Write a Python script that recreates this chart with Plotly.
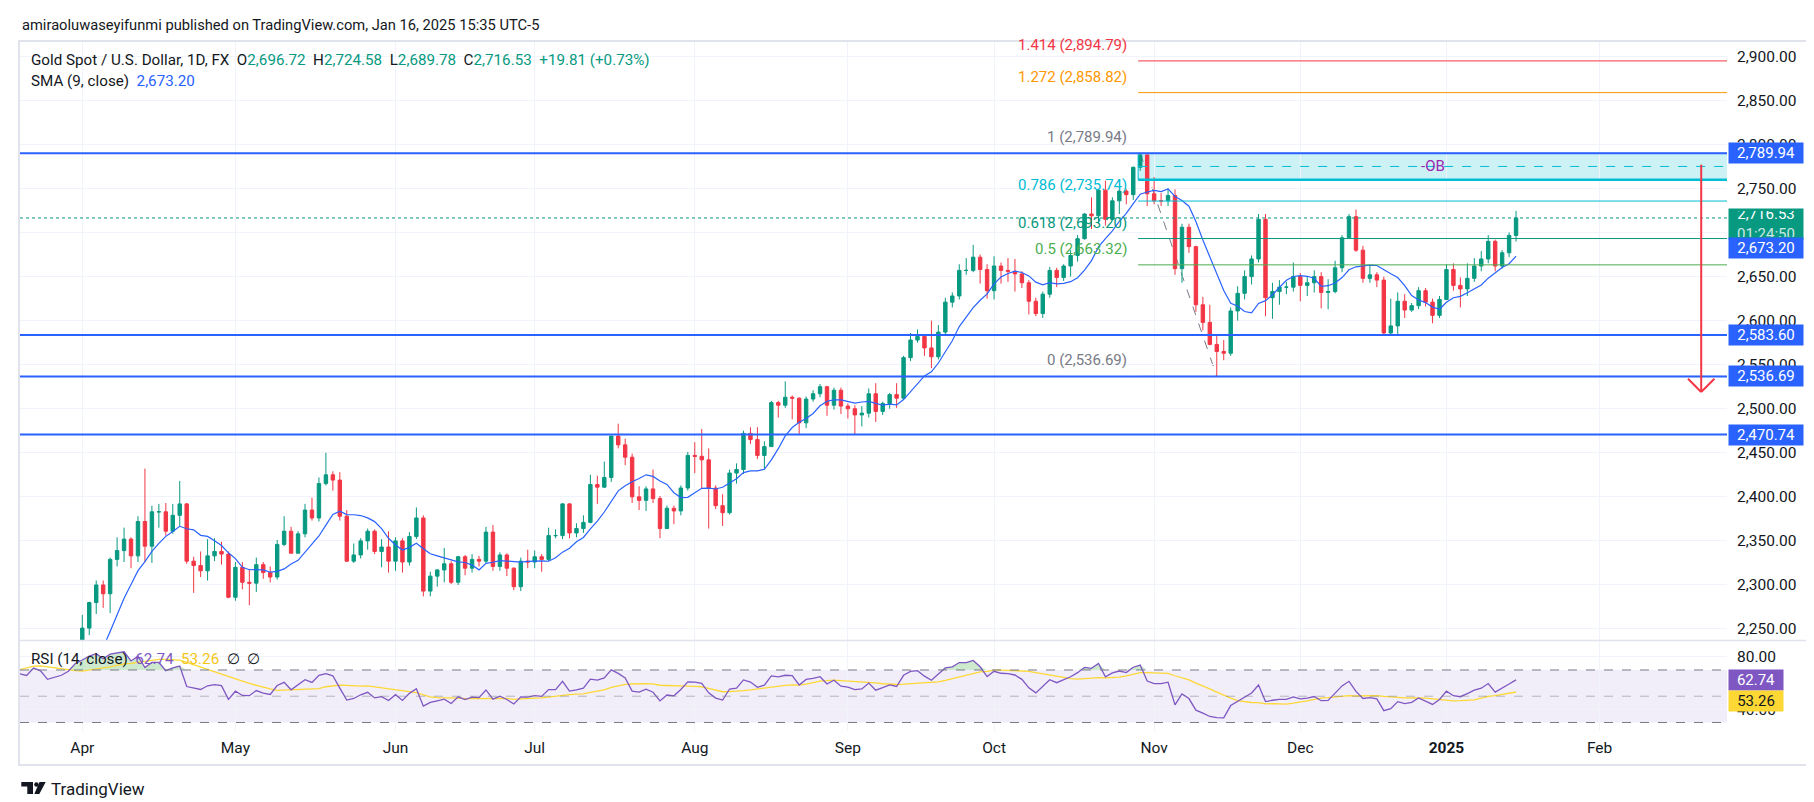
import numpy as np
import pandas as pd
import plotly.graph_objects as go

# ------------------------------------------------------------------ data
# closes before the visible window (indicator warm-up), Jan 2 - Feb 29 2024
warmup_close = [2059, 2042, 2043, 2045, 2028, 2030, 2024, 2029, 2049, 2054, 2028, 2006, 2023, 2029,
                2022, 2029, 2014, 2021, 2018, 2032, 2037, 2039,
                2054, 2039, 2025, 2035, 2035, 2034, 2024, 2020, 1992, 1992, 2004, 2013, 2017, 2025,
                2025, 2024, 2036, 2031, 2033, 2034, 2044]

# daily OHLC, Mar 1 2024 - Jan 16 2025
opens = [
    2044, 2083, 2114, 2128, 2148, 2160, 2179, 2182, 2158, 2174, 2162, 2155, 2160, 2157, 2186, 2181, 2165, 2172, 2179, 2194,
    2233, 2251, 2280, 2300, 2290, 2329, 2339, 2352, 2333, 2372, 2344, 2383, 2383, 2361, 2379, 2392, 2327, 2322, 2316, 2333, 2338, 2335,
    2286, 2320, 2303, 2302, 2323, 2314, 2309, 2346, 2361, 2336, 2358, 2385, 2376, 2415, 2425, 2419, 2378, 2327, 2334, 2350, 2361, 2338, 2343,
    2327, 2350, 2326, 2355, 2376, 2293, 2310, 2317, 2324, 2303, 2332, 2319, 2329, 2327, 2360, 2321, 2334, 2319, 2298, 2327,
    2326, 2332, 2329, 2356, 2356, 2392, 2359, 2364, 2371, 2414, 2411, 2422, 2469, 2459, 2445, 2400, 2396, 2409, 2398, 2364, 2387, 2384, 2410,
    2447, 2446, 2442, 2410, 2390, 2382, 2427, 2431, 2472, 2465, 2447, 2457, 2507, 2504, 2513, 2512, 2484, 2511, 2517, 2525, 2504, 2521,
    2503, 2500, 2493, 2495, 2517, 2497, 2506, 2516, 2512, 2558, 2578, 2582, 2569, 2559, 2587, 2621, 2628, 2657, 2657, 2672, 2658,
    2634, 2662, 2657, 2656, 2653, 2643, 2622, 2608, 2630, 2657, 2649, 2662, 2674, 2693, 2721, 2719, 2748, 2715, 2736, 2747, 2743, 2774, 2788,
    2744, 2736, 2736, 2742, 2659, 2706, 2684, 2618, 2598, 2573, 2565, 2563, 2611, 2631, 2650, 2670, 2715, 2626, 2633, 2638, 2638,
    2650, 2640, 2643, 2650, 2632, 2633, 2660, 2694, 2718, 2680, 2648, 2652, 2646, 2586, 2594, 2622, 2612, 2617, 2634, 2621, 2606,
    2624, 2658, 2640, 2636, 2648, 2662, 2670, 2690, 2662, 2677, 2696.72]
highs = [
    2088, 2119, 2141, 2152, 2165, 2195, 2189, 2185, 2176, 2175, 2166, 2164, 2163, 2187, 2223, 2183, 2177, 2185, 2196, 2236,
    2266, 2281, 2305, 2305, 2331, 2354, 2365, 2354, 2378, 2432, 2390, 2392, 2393, 2392, 2418, 2393, 2332, 2338, 2352, 2353, 2349, 2338,
    2326, 2326, 2318, 2331, 2326, 2321, 2351, 2378, 2366, 2361, 2392, 2399, 2422, 2450, 2429, 2428, 2385, 2347, 2353, 2364, 2363, 2352, 2361,
    2354, 2353, 2360, 2388, 2379, 2315, 2318, 2342, 2327, 2333, 2334, 2335, 2333, 2366, 2368, 2337, 2336, 2320, 2331, 2340,
    2339, 2335, 2365, 2363, 2393, 2393, 2370, 2379, 2425, 2424, 2440, 2469, 2483, 2466, 2449, 2412, 2412, 2431, 2401, 2390, 2390, 2413, 2451,
    2462, 2477, 2455, 2413, 2403, 2431, 2438, 2475, 2479, 2479, 2463, 2509, 2509, 2531, 2515, 2513, 2514, 2521, 2528, 2526, 2524, 2524,
    2506, 2504, 2503, 2523, 2529, 2508, 2518, 2529, 2560, 2586, 2590, 2584, 2600, 2595, 2626, 2632, 2664, 2671, 2686, 2675, 2664,
    2673, 2666, 2671, 2670, 2656, 2646, 2626, 2633, 2661, 2660, 2664, 2680, 2697, 2722, 2740, 2749, 2759, 2740, 2749, 2749, 2775, 2789.94, 2789,
    2763, 2745, 2750, 2749, 2710, 2710, 2685, 2627, 2618, 2584, 2578, 2615, 2639, 2657, 2674, 2721, 2721, 2643, 2646, 2644, 2666,
    2654, 2650, 2657, 2655, 2647, 2668, 2697, 2721, 2726, 2685, 2663, 2655, 2650, 2625, 2632, 2630, 2620, 2638, 2637, 2625, 2628,
    2664, 2665, 2649, 2665, 2671, 2679, 2697, 2692, 2680, 2700, 2724.58]
lows = [
    2039, 2079, 2109, 2127, 2142, 2154, 2175, 2150, 2154, 2155, 2151, 2146, 2146, 2150, 2176, 2157, 2160, 2168, 2173, 2189,
    2228, 2243, 2267, 2274, 2268, 2321, 2326, 2319, 2326, 2326, 2325, 2365, 2356, 2358, 2367, 2324, 2291, 2309, 2305, 2327, 2323, 2285,
    2282, 2295, 2277, 2292, 2307, 2303, 2306, 2344, 2336, 2336, 2354, 2373, 2372, 2413, 2407, 2373, 2326, 2325, 2330, 2340, 2335, 2320, 2314,
    2316, 2314, 2322, 2352, 2287, 2287, 2298, 2303, 2301, 2300, 2311, 2314, 2321, 2325, 2316, 2316, 2310, 2294, 2293, 2319,
    2319, 2315, 2327, 2353, 2352, 2353, 2354, 2359, 2370, 2392, 2410, 2417, 2455, 2436, 2393, 2385, 2384, 2393, 2353, 2364, 2369, 2379, 2407,
    2427, 2410, 2364, 2386, 2367, 2380, 2415, 2426, 2460, 2443, 2431, 2457, 2490, 2501, 2488, 2470, 2478, 2508, 2513, 2492, 2499, 2494,
    2489, 2471, 2480, 2490, 2485, 2493, 2500, 2501, 2510, 2554, 2575, 2560, 2546, 2556, 2584, 2615, 2624, 2652, 2655, 2642, 2625,
    2624, 2642, 2644, 2633, 2637, 2607, 2605, 2603, 2626, 2638, 2645, 2650, 2667, 2692, 2704, 2710, 2708, 2714, 2721, 2732, 2737, 2770, 2730,
    2732, 2730, 2730, 2652, 2643, 2677, 2610, 2589, 2572, 2536.69, 2555, 2560, 2600, 2624, 2641, 2666, 2605, 2602, 2618, 2630, 2633,
    2622, 2628, 2632, 2614, 2613, 2631, 2655, 2693, 2678, 2643, 2643, 2638, 2583, 2583, 2584, 2603, 2610, 2613, 2616, 2597, 2603,
    2624, 2634, 2615, 2628, 2644, 2656, 2665, 2656, 2659, 2672, 2689.78]
closes = [
    2083, 2114, 2128, 2148, 2160, 2179, 2182, 2158, 2174, 2162, 2155, 2160, 2157, 2186, 2181, 2165, 2172, 2179, 2194, 2230,
    2251, 2280, 2300, 2290, 2329, 2339, 2352, 2333, 2372, 2344, 2383, 2383, 2361, 2379, 2392, 2327, 2322, 2316, 2333, 2338, 2335, 2286,
    2320, 2303, 2302, 2323, 2314, 2309, 2346, 2361, 2336, 2358, 2385, 2376, 2415, 2425, 2419, 2378, 2327, 2334, 2350, 2361, 2338, 2343, 2327,
    2350, 2326, 2355, 2376, 2293, 2310, 2317, 2324, 2303, 2332, 2319, 2329, 2327, 2360, 2321, 2334, 2319, 2298, 2327, 2326,
    2332, 2329, 2356, 2356, 2392, 2359, 2364, 2371, 2414, 2411, 2422, 2469, 2459, 2445, 2400, 2396, 2409, 2398, 2364, 2387, 2384, 2410, 2447,
    2446, 2442, 2410, 2390, 2382, 2427, 2431, 2472, 2465, 2447, 2457, 2507, 2504, 2513, 2512, 2484, 2511, 2517, 2525, 2504, 2521, 2503,
    2500, 2493, 2495, 2517, 2497, 2506, 2516, 2512, 2558, 2578, 2582, 2569, 2559, 2587, 2621, 2628, 2657, 2657, 2672, 2658, 2634,
    2662, 2657, 2656, 2653, 2643, 2622, 2608, 2630, 2657, 2649, 2662, 2674, 2693, 2721, 2719, 2748, 2715, 2736, 2747, 2743, 2774, 2788, 2744,
    2736, 2736, 2742, 2659, 2706, 2684, 2618, 2598, 2573, 2565, 2563, 2611, 2631, 2650, 2670, 2715, 2626, 2633, 2638, 2638, 2650,
    2640, 2643, 2650, 2632, 2633, 2660, 2694, 2718, 2680, 2648, 2652, 2646, 2586, 2594, 2622, 2612, 2617, 2634, 2621, 2606, 2624,
    2658, 2640, 2636, 2648, 2662, 2670, 2690, 2662, 2677, 2696.72, 2716.53]

holidays = ["2024-03-29", "2024-12-25", "2025-01-01"]
month_starts = ["2024-04", "2024-05", "2024-06", "2024-07", "2024-08", "2024-09",
                "2024-10", "2024-11", "2024-12", "2025-01", "2025-02"]
month_labels = ["Apr", "May", "Jun", "Jul", "Aug", "Sep", "Oct", "Nov", "Dec", "<b>2025</b>", "Feb"]

price_ticks = list(range(2250, 2901, 50))
rsi_ticks = [40, 80]
support_levels = [2789.94, 2583.60, 2470.74, 2536.69]

fib_high, fib_low = 2789.94, 2536.69
fib_ratios = [1.414, 1.272, 1, 0.786, 0.618, 0.5, 0]
fib_names = ["1.414", "1.272", "1", "0.786", "0.618", "0.5", "0"]
fib_colors = ["#f23645", "#ff9800", "#787b86", "#00bcd4", "#089981", "#4caf50", "#787b86"]
fib_start_date, fib_end_date = "2024-10-30", "2024-11-14"

ob_top, ob_mid, ob_bottom = 2789.94, 2775.0, 2760.0
ob_label_date = "2024-12-30"
arrow_bar, arrow_top, arrow_tip = 232.6, 2777.0, 2519.0

last_close, sma_last, rsi_last, rsi_ma_last = 2716.53, 2673.20, 62.74, 53.26

# ------------------------------------------------------------------ calendar / indicators
cal = pd.bdate_range("2024-01-02", "2025-02-28")
cal = cal[~cal.isin(pd.to_datetime(holidays))]
pos = {d.strftime("%Y-%m-%d"): i for i, d in enumerate(cal)}
origin = pos["2024-04-01"]
n_warm = len(warmup_close)
n = len(closes)
x_all = np.arange(n_warm + n) - origin
x_ohlc = x_all[n_warm:]

def bar_of(date):
    return pos[date] - origin

tick_x = [next(i for i, d in enumerate(cal) if d.strftime("%Y-%m") == m) - origin for m in month_starts]

all_close = pd.Series(warmup_close + closes, dtype=float)
sma9 = all_close.rolling(9).mean()
delta = all_close.diff()
gain = delta.clip(lower=0).ewm(alpha=1 / 14, adjust=False).mean()
loss = (-delta.clip(upper=0)).ewm(alpha=1 / 14, adjust=False).mean()
rsi = 100 - 100 / (1 + gain / loss)
rsi_ma = rsi.rolling(14).mean()

# ------------------------------------------------------------------ geometry
W, H = 1814, 802
PL, PR, PT, PB = 12, 1719, 33, 723
MAIN_BOTTOM, RSI_TOP = 632, 633
XR = [(PL - 74.3) / 6.96, (PR - 74.3) / 6.96]
YR = [2237.5, 2917.4]
RR = [23.5, 92.1]

def pxx(X):
    return (X - PL) / (PR - PL)

def pxy(Y):
    return (PB - Y) / (PB - PT)

UP, DN = "#089981", "#f23645"
BLUE, PURPLE, YELLOW = "#2962ff", "#7e57c2", "#fdd835"
TXT, GRID, FRAME = "#131722", "#f0f3fa", "#e0e3eb"
FONT = "Roboto, Arial, sans-serif"

fig = go.Figure()

# RSI overbought fill
fig.add_trace(go.Scatter(x=x_all, y=[70] * len(x_all), mode="lines", line=dict(width=0),
                         xaxis="x2", yaxis="y2", showlegend=False, hoverinfo="skip"))
fig.add_trace(go.Scatter(x=x_all, y=np.maximum(rsi.fillna(50), 70), mode="lines", line=dict(width=0),
                         fill="tonexty", fillcolor="rgba(76,175,80,0.28)",
                         xaxis="x2", yaxis="y2", showlegend=False, hoverinfo="skip"))
fig.add_trace(go.Scatter(x=x_all, y=rsi_ma, mode="lines", line=dict(color=YELLOW, width=1.3),
                         xaxis="x2", yaxis="y2", showlegend=False, hoverinfo="skip"))
fig.add_trace(go.Scatter(x=x_all, y=rsi, mode="lines", line=dict(color=PURPLE, width=1.3),
                         xaxis="x2", yaxis="y2", showlegend=False, hoverinfo="skip"))

fig.add_trace(go.Candlestick(
    x=x_ohlc, open=opens, high=highs, low=lows, close=closes,
    increasing=dict(line=dict(color=UP, width=1), fillcolor=UP),
    decreasing=dict(line=dict(color=DN, width=1), fillcolor=DN),
    whiskerwidth=0, showlegend=False, hoverinfo="skip", xaxis="x", yaxis="y"))
fig.add_trace(go.Scatter(x=x_all, y=sma9, mode="lines", line=dict(color=BLUE, width=1.2),
                         xaxis="x", yaxis="y", showlegend=False, hoverinfo="skip"))

shapes = []
fx0 = bar_of(fib_start_date) - 0.3
fx1 = bar_of(fib_end_date)
# OB zone
shapes.append(dict(type="rect", xref="x", yref="y", x0=fx0, x1=XR[1], y0=ob_bottom, y1=ob_top,
                   fillcolor="rgba(0,188,212,0.2)", line=dict(width=0), layer="below"))
shapes.append(dict(type="line", xref="x", yref="y", x0=fx0, x1=XR[1], y0=ob_bottom, y1=ob_bottom,
                   line=dict(color="#00bcd4", width=2.5)))
shapes.append(dict(type="line", xref="x", yref="y", x0=fx0, x1=fx0, y0=ob_bottom, y1=ob_top,
                   line=dict(color="#00bcd4", width=1)))
shapes.append(dict(type="line", xref="x", yref="y", x0=fx0, x1=XR[1], y0=ob_mid, y1=ob_mid,
                   line=dict(color="#00bcd4", width=1, dash="dash")))
# fib lines
for r, c in zip(fib_ratios, fib_colors):
    v = fib_low + r * (fib_high - fib_low)
    shapes.append(dict(type="line", xref="x", yref="y", x0=fx0, x1=XR[1], y0=v, y1=v,
                       line=dict(color=c, width=1)))
# diagonal
shapes.append(dict(type="line", xref="x", yref="y", x0=fx0 + 0.3, x1=fx1, y0=fib_high, y1=fib_low,
                   line=dict(color="#787b86", width=1, dash="dash"), layer="below"))
# price line
shapes.append(dict(type="line", xref="paper", yref="y", x0=0, x1=1, y0=last_close, y1=last_close,
                   line=dict(color=UP, width=1, dash="dot")))
# horizontal support/resistance
for v in support_levels:
    shapes.append(dict(type="line", xref="paper", yref="y", x0=0, x1=1, y0=v, y1=v,
                       line=dict(color=BLUE, width=2)))
# red arrow
shapes.append(dict(type="line", xref="x", yref="y", x0=arrow_bar, x1=arrow_bar, y0=arrow_top, y1=arrow_tip,
                   line=dict(color=DN, width=2)))
shapes.append(dict(type="line", xref="x", yref="y", x0=arrow_bar - 1.9, x1=arrow_bar, y0=arrow_tip + 15, y1=arrow_tip,
                   line=dict(color=DN, width=2)))
shapes.append(dict(type="line", xref="x", yref="y", x0=arrow_bar + 1.9, x1=arrow_bar, y0=arrow_tip + 15, y1=arrow_tip,
                   line=dict(color=DN, width=2)))
# RSI band and levels
shapes.append(dict(type="rect", xref="paper", yref="y2", x0=0, x1=1, y0=30, y1=70,
                   fillcolor="rgba(126,87,194,0.1)", line=dict(width=0), layer="below"))
for lv, col in [(70, "#787b86"), (50, "rgba(120,123,134,0.5)"), (30, "#787b86")]:
    shapes.append(dict(type="line", xref="paper", yref="y2", x0=0, x1=1, y0=lv, y1=lv,
                       line=dict(color=col, width=1, dash="dash")))
# pane separator and frame
shapes.append(dict(type="line", xref="paper", yref="paper", x0=pxx(PL), x1=pxx(1801), y0=pxy(632.5), y1=pxy(632.5),
                   line=dict(color=FRAME, width=1.5)))
shapes.append(dict(type="rect", xref="paper", yref="paper", x0=pxx(11), x1=pxx(1801), y0=pxy(757), y1=pxy(33),
                   line=dict(color=FRAME, width=2)))
# TradingView logo
def P(X, Y):
    return f"{pxx(X):.5f},{pxy(Y):.5f}"
shapes.append(dict(type="path", xref="paper", yref="paper",
                   path=f"M{P(13.3,774)} L{P(25,774)} L{P(25,786)} L{P(19.3,786)} L{P(19.3,778.5)} L{P(13.3,778.5)} Z",
                   fillcolor=TXT, line=dict(width=0)))
shapes.append(dict(type="path", xref="paper", yref="paper",
                   path=f"M{P(31.5,774)} L{P(37.7,774)} L{P(31.3,786)} L{P(26.3,786)} Z",
                   fillcolor=TXT, line=dict(width=0)))
shapes.append(dict(type="circle", xref="paper", yref="paper", x0=pxx(26.2), x1=pxx(30.6), y0=pxy(778.7), y1=pxy(774.3),
                   fillcolor=TXT, line=dict(width=0)))

ann = []

def txt(text, X, Y, size=15, color=TXT, xanchor="left"):
    ann.append(dict(text=text, xref="paper", yref="paper", x=pxx(X), y=pxy(Y), xanchor=xanchor,
                    yanchor="middle", showarrow=False, font=dict(family=FONT, size=size, color=color)))

txt("amiraoluwaseyifunmi published on TradingView.com, Jan 16, 2025 15:35 UTC-5", 12, 17, size=14.7)
g = lambda s: f"<span style='color:{UP}'>{s}</span>"
txt(f"Gold Spot / U.S. Dollar, 1D, FX  O{g('2,696.72')}  H{g('2,724.58')}  L{g('2,689.78')}  "
    f"C{g('2,716.53')}  {g('+19.81 (+0.73%)')}", 21, 52, size=15.2)
txt(f"SMA (9, close)  <span style='color:{BLUE}'>{sma_last:,.2f}</span>", 21, 73, size=15.2)
txt(f"RSI (14, close)  <span style='color:{PURPLE}'>{rsi_last:.2f}</span>  "
    f"<span style='color:#f5c518'>{rsi_ma_last:.2f}</span>  ∅  ∅", 21, 651, size=15.2)
txt("TradingView", 41, 781, size=17)

# fib labels
for r, nm, c in zip(fib_ratios, fib_names, fib_colors):
    v = fib_low + r * (fib_high - fib_low)
    ann.append(dict(text=f"{nm} ({v:,.2f})", xref="x", yref="y", x=fx0, y=v, xanchor="right", yanchor="bottom",
                    xshift=-9, yshift=5, showarrow=False, font=dict(family=FONT, size=15, color=c)))
ann.append(dict(text="-OB", xref="x", yref="y", x=bar_of(ob_label_date), y=ob_mid, xanchor="center",
                yanchor="middle", showarrow=False, font=dict(family=FONT, size=15, color="#9c27b0")))

# price-scale badges
def badge(text, yref, y, bg, fg="white", yshift=0, width=70, height=16, yanchor="middle"):
    ann.append(dict(text=text, xref="paper", yref=yref, x=pxx(1720), y=y, xanchor="left", yanchor=yanchor,
                    yshift=yshift, showarrow=False, bgcolor=bg, borderpad=2, width=width, height=height,
                    align="center", font=dict(family=FONT, size=15, color=fg)))

badge(f"{support_levels[0]:,.2f}", "y", support_levels[0], BLUE)
badge(f"{last_close:,.2f}<br><span style='color:rgba(255,255,255,0.8)'>01:24:50</span>", "y", last_close, UP,
      height=26, yanchor="top", yshift=10)
badge(f"{sma_last:,.2f}", "y", sma_last, BLUE, yshift=8)
for v in support_levels[1:]:
    badge(f"{v:,.2f}", "y", v, BLUE)
badge(f"{rsi_last:.2f}", "y2", rsi_last, PURPLE, width=50)
badge(f"{rsi_ma_last:.2f}", "y2", rsi_ma_last, YELLOW, fg=TXT, width=50, yshift=-9)

axfont = dict(family=FONT, size=15.5, color=TXT)
fig.update_layout(
    width=W, height=H, paper_bgcolor="white", plot_bgcolor="white",
    margin=dict(l=PL, r=W - PR, t=PT, b=H - PB),
    showlegend=False, hovermode=False,
    xaxis=dict(domain=[0, 1], range=XR, anchor="y", tickvals=tick_x, showticklabels=False,
               showgrid=True, gridcolor=GRID, zeroline=False, showline=False, ticks="",
               rangeslider=dict(visible=False)),
    xaxis2=dict(domain=[0, 1], range=XR, anchor="y2", tickvals=tick_x, ticktext=month_labels,
                showgrid=True, gridcolor=GRID, zeroline=False, showline=False, ticks="",
                ticklabelstandoff=5, tickfont=axfont, rangeslider=dict(visible=False)),
    yaxis=dict(domain=[pxy(MAIN_BOTTOM), 1], range=YR, side="right", tickvals=price_ticks,
               tickformat=",.2f", gridcolor=GRID, zeroline=False, showline=False, ticks="",
               ticklabelstandoff=9, tickfont=axfont),
    yaxis2=dict(domain=[0, pxy(RSI_TOP)], range=RR, side="right", tickvals=rsi_ticks,
                tickformat=".2f", gridcolor=GRID, zeroline=False, showline=False, ticks="",
                ticklabelstandoff=9, tickfont=axfont),
    shapes=shapes, annotations=ann,
)

fig.write_html("out.html")
